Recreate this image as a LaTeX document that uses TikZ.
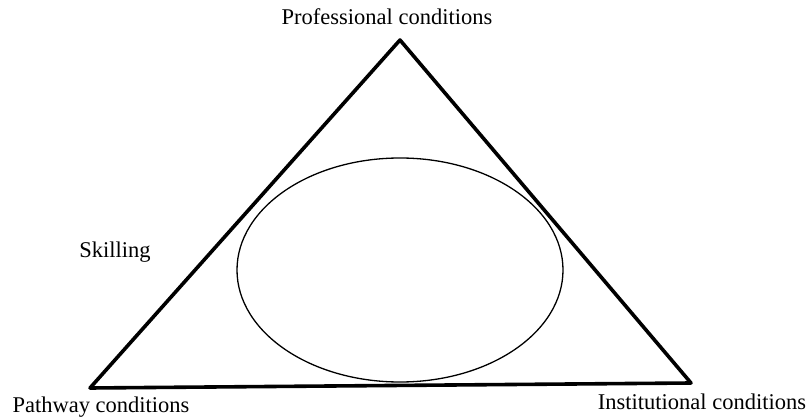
\documentclass[tikz,border=0pt]{standalone}
\usepackage{fontspec}
\setmainfont{Liberation Serif}
\usetikzlibrary{positioning,shapes.geometric}

\begin{document}
\begin{tikzpicture}[
  x=1pt, y=-1pt,
  every node/.style={font=\fontsize{22.5}{26}\selectfont, inner sep=0pt, anchor=base},
  side/.style={line width=3.6pt, line join=round, line cap=round},
  core/.style={draw, ellipse, line width=1.3pt, minimum width=326pt, minimum height=224pt}
]
\useasboundingbox (0,0) rectangle (807,417);
\coordinate (prof) at (400,40);
\coordinate (path) at (90,388);
\coordinate (inst) at (691,383);
\draw[side] (prof) -- (inst) -- (path) -- cycle;
\node[core, anchor=center] (centre) at (400,270) {};

\node (proflbl) at (387,25) {Professional conditions};
\node (skill) at (115,258) {Skilling};
\node (pathlbl) at (101,412) {Pathway conditions};
\node (instlbl) at (702,409) {Institutional conditions};
\end{tikzpicture}
\end{document}
